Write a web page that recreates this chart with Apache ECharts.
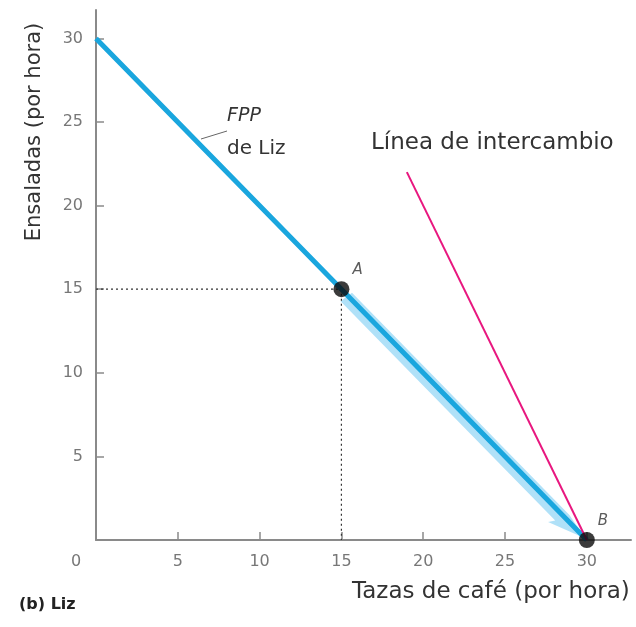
<!DOCTYPE html>
<html><head><meta charset="utf-8">
<script src="https://cdn.jsdelivr.net/npm/echarts@6/dist/echarts.min.js"></script>
<style>html,body{margin:0;padding:0;background:#fff}#c{width:636px;height:627px}</style>
</head><body><div id="c"></div>
<script>
// Data
const coffeeTicks = [0, 5, 10, 15, 20, 25, 30];
const saladTicks = [5, 10, 15, 20, 25, 30];
const ppfCoffee = [0, 15, 30];
const ppfSalad = [30, 15, 0];
const tradeCoffee = [30, 19];
const tradeSalad = [0, 22];
const pointNames = ['A', 'B'];
const pointCoffee = [15, 30];
const pointSalad = [15, 0];

const FONT = 'DejaVu Sans';
const chart = echarts.init(document.getElementById('c'), null, {renderer: 'canvas'});

const ppfData = ppfCoffee.map((x, i) => [x, ppfSalad[i]]);
const tradeData = tradeCoffee.map((x, i) => [x, tradeSalad[i]]);
const pts = pointNames.map((n, i) => ({name: n, value: [pointCoffee[i], pointSalad[i]]}));
const guideData = [[0, pointSalad[0]], [pointCoffee[0], pointSalad[0]], [pointCoffee[0], 0]];

option = {
  animation: false,
  grid: {left: 96, top: 10, right: 5, bottom: 87},
  xAxis: {
    type: 'value', min: 0, max: 32.7, interval: 5,
    axisLine: {lineStyle: {color: '#8a8a8a', width: 2}},
    axisTick: {inside: true, length: 8, customValues: coffeeTicks.filter(v => v > 0), lineStyle: {color: '#8a8a8a', width: 1.5}},
    splitLine: {show: false},
    axisLabel: {
      margin: 14, color: '#777', fontSize: 16, fontFamily: FONT,
      customValues: coffeeTicks,
      formatter: v => coffeeTicks.includes(v) ? (v === 0 ? '{z|0}' : String(v)) : '',
      rich: {z: {padding: [0, 40, 0, 0], color: '#777', fontSize: 16, fontFamily: FONT}}
    }
  },
  yAxis: {
    type: 'value', min: 0, max: 31.7, interval: 5,
    axisLine: {lineStyle: {color: '#8a8a8a', width: 2}},
    axisTick: {inside: true, length: 8, customValues: saladTicks, lineStyle: {color: '#8a8a8a', width: 1.5}},
    splitLine: {show: false},
    axisLabel: {
      margin: 13, color: '#777', fontSize: 16, fontFamily: FONT,
      customValues: saladTicks,
      formatter: v => saladTicks.includes(v) ? String(v) : ''
    }
  },
  series: [
    {
      type: 'custom', z: 1, silent: true,
      data: [[pointCoffee[0], pointSalad[0], pointCoffee[1], pointSalad[1]]],
      renderItem: function (params, api) {
        const p1 = api.coord([api.value(0), api.value(1)]);
        const p2 = api.coord([api.value(2), api.value(3)]);
        const dx = p2[0] - p1[0], dy = p2[1] - p1[1];
        const L = Math.hypot(dx, dy);
        const d = [dx / L, dy / L];
        const n = [-d[1], d[0]];
        const P = (base, along, off) => [base[0] + d[0] * along + n[0] * off, base[1] + d[1] * along + n[1] * off];
        const pts = [
          P(p1, 10, -5), P(p2, -30, -5), P(p2, -2, 0),
          P(p2, -40, 15), P(p2, -36, 9), P(p1, 8, 9)
        ];
        return {type: 'polygon', shape: {points: pts}, style: {fill: 'rgba(150,215,245,0.75)'}};
      }
    },
    {
      type: 'line', data: guideData, showSymbol: false, z: 2,
      lineStyle: {color: '#333', width: 1.2, type: [2, 3]}
    },
    {
      type: 'line', data: ppfData, showSymbol: false, z: 3,
      lineStyle: {color: '#1aa6de', width: 5}
    },
    {
      type: 'line', data: tradeData, showSymbol: false, z: 3,
      lineStyle: {color: '#e8177f', width: 2}
    },
    {
      type: 'scatter', data: pts, z: 5, symbolSize: 16,
      itemStyle: {color: '#0a0a0a'},
      label: {
        show: true, formatter: '{b}', position: 'right', offset: [-2, -19],
        fontStyle: 'italic', fontSize: 15, color: '#333', fontFamily: FONT
      }
    }
  ],
  graphic: [
    {type: 'line', shape: {x1: 201, y1: 139, x2: 227, y2: 131}, style: {stroke: '#666', lineWidth: 1}},
    {type: 'text', left: 227, top: 107, style: {text: 'FPP', fontStyle: 'italic', fontSize: 19, fill: '#333', fontFamily: FONT}},
    {type: 'text', left: 227, top: 139, style: {text: 'de Liz', fontSize: 20, fill: '#333', fontFamily: FONT}},
    {type: 'text', left: 371, top: 132, style: {text: 'Línea de intercambio', fontSize: 23, fill: '#333', fontFamily: FONT}},
    {type: 'text', left: 352, top: 581, style: {text: 'Tazas de café (por hora)', fontSize: 23, fill: '#333', fontFamily: FONT}},
    {type: 'text', left: 19, top: 597, style: {text: '(b) Liz', fontSize: 16, fontWeight: 'bold', fill: '#222', fontFamily: FONT}},
    {type: 'text', x: 35, y: 132, rotation: Math.PI / 2,
     style: {text: 'Ensaladas (por hora)', fontSize: 21, fill: '#333', fontFamily: FONT, align: 'center', verticalAlign: 'middle'}}
  ]
};
chart.setOption(option);
</script>
</body></html>
